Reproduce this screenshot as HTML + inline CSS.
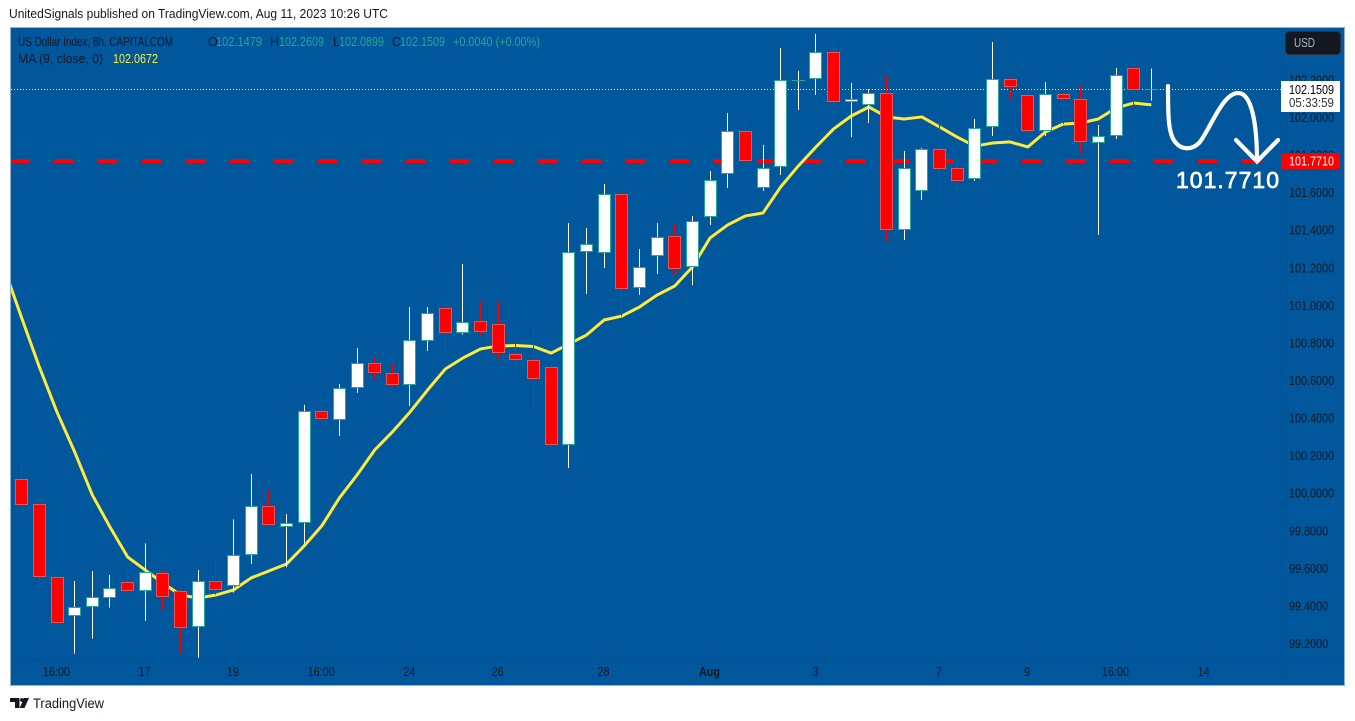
<!DOCTYPE html>
<html lang="en">
<head>
<meta charset="utf-8">
<title>US Dollar Index chart</title>
<style>
html,body{margin:0;padding:0;background:#fff;width:1355px;height:721px;overflow:hidden}
svg{display:block;position:absolute;left:0;top:0}
text{font-family:"Liberation Sans",sans-serif;font-size:12.5px;fill:#131722}
</style>
</head>
<body>
<svg id="chart" xmlns="http://www.w3.org/2000/svg" width="1355" height="721" viewBox="0 0 1355 721">
  <defs><clipPath id="pane-clip"><rect x="11" y="28" width="1271" height="631"/></clipPath></defs>
  <text x="9" y="18" style="font-size:13px" textLength="379" lengthAdjust="spacingAndGlyphs">UnitedSignals published on TradingView.com, Aug 11, 2023 10:26 UTC</text>
  <rect x="10.5" y="27.5" width="1334" height="658" fill="#01579b" stroke="#8fb0cf"/>
  <line x1="1281.5" y1="28" x2="1281.5" y2="685" stroke="#0a4f8b"/>
  <line x1="11" y1="659.5" x2="1344" y2="659.5" stroke="#0a4f8b"/>
  <g id="price-ticks"></g>
  <g id="time-ticks"></g>
  <g id="levels" clip-path="url(#pane-clip)"></g>
  <polyline id="ma-line" fill="none" stroke="#ffeb3b" stroke-width="3" stroke-linejoin="round" clip-path="url(#pane-clip)"/>
  <g id="candles" clip-path="url(#pane-clip)"></g>

  <g>
    <text x="18" y="46" textLength="155" lengthAdjust="spacingAndGlyphs">US Dollar Index, 8h, CAPITALCOM</text>
    <text x="208" y="46">O</text>
    <text x="216" y="46" style="fill:#26a69a" textLength="46" lengthAdjust="spacingAndGlyphs">102.1479</text>
    <text x="270" y="46">H</text>
    <text x="279" y="46" style="fill:#26a69a" textLength="45" lengthAdjust="spacingAndGlyphs">102.2609</text>
    <text x="333" y="46">L</text>
    <text x="339" y="46" style="fill:#26a69a" textLength="45" lengthAdjust="spacingAndGlyphs">102.0899</text>
    <text x="392" y="46">C</text>
    <text x="400" y="46" style="fill:#26a69a" textLength="45" lengthAdjust="spacingAndGlyphs">102.1509</text>
    <text x="453" y="46" style="fill:#26a69a" textLength="87" lengthAdjust="spacingAndGlyphs">+0.0040 (+0.00%)</text>
    <text x="18" y="63" textLength="85" lengthAdjust="spacingAndGlyphs">MA (9, close, 0)</text>
    <text x="113" y="63" style="fill:#ffeb3b" textLength="45" lengthAdjust="spacingAndGlyphs">102.0672</text>
  </g>

  <g>
    <rect x="1285.5" y="31.5" width="55" height="23" rx="4" fill="#131722" stroke="#2a2e39"/>
    <text x="1294" y="47" style="fill:#b2b5be" textLength="21" lengthAdjust="spacingAndGlyphs">USD</text>
  </g>

  <g>
    <rect x="1281" y="81" width="59" height="31" fill="#ffffff"/>
    <text x="1289" y="94" style="fill:#000" textLength="45" lengthAdjust="spacingAndGlyphs">102.1509</text>
    <text x="1289" y="107" style="fill:#333" textLength="45" lengthAdjust="spacingAndGlyphs">05:33:59</text>
  </g>
  <g>
    <rect x="1281" y="153" width="59" height="16" fill="#ff0000"/>
    <text x="1289" y="165.5" style="fill:#fff" textLength="45" lengthAdjust="spacingAndGlyphs">101.7710</text>
  </g>

  <g>
    <path d="M1168 86 C1168 115 1168 135 1176 143 C1182 150 1192 150 1199 143 C1209 132 1222 93 1238 93 C1252 93 1257 125 1257 161" fill="none" stroke="#fff" stroke-width="4.2" stroke-linecap="round"/>
    <path d="M1236 140 L1257 161.5 L1278 140" fill="none" stroke="#fff" stroke-width="4.2" stroke-linecap="round" stroke-linejoin="miter"/>
  </g>
  <text x="1176" y="188" style="fill:#fff;font-size:23px;stroke:#fff;stroke-width:.7px" textLength="103">101.7710</text>

  <g>
    <path d="M10 698 H19.5 V708 H15 V702 H10 Z" fill="#131722"/>
    <circle cx="22" cy="700" r="1.9" fill="#131722"/>
    <path d="M24 698 H29 L24.5 708 H19.7 Z" fill="#131722"/>
    <text x="33" y="708" style="font-size:13.5px" textLength="71" lengthAdjust="spacingAndGlyphs">TradingView</text>
  </g>
</svg>
<script>
const opens = [100.074,99.941,99.552,99.345,99.393,99.441,99.526,99.478,99.574,99.478,99.286,99.531,99.505,99.670,99.930,99.819,99.840,100.436,100.388,100.559,100.692,100.638,100.575,100.809,100.984,100.851,100.915,100.899,100.740,100.708,100.670,100.255,101.283,101.277,101.591,101.091,101.261,101.368,101.203,101.469,101.698,101.927,101.623,101.735,102.198,102.203,102.347,102.081,102.065,102.129,101.400,101.607,101.831,101.730,101.671,101.948,102.203,102.118,101.927,102.124,102.097,101.863,101.900,102.262,102.1479];
const highs = [100.181,99.959,99.565,99.533,99.586,99.565,99.586,99.733,99.591,99.489,99.591,99.648,99.861,100.102,100.017,99.889,100.470,100.539,100.581,100.773,100.721,100.693,100.991,100.991,100.997,101.220,101.020,101.020,100.851,100.910,100.688,101.438,101.412,101.646,101.635,101.300,101.438,101.438,101.476,101.715,102.024,101.987,101.854,102.370,102.248,102.445,102.406,102.184,102.152,102.221,101.822,101.838,101.971,101.790,101.992,102.402,102.216,102.162,102.189,102.124,102.168,101.960,102.264,102.274,102.2609];
const lows = [99.914,99.502,99.308,99.146,99.226,99.391,99.467,99.321,99.382,99.148,99.125,99.460,99.471,99.623,99.829,99.606,99.730,100.381,100.305,100.535,100.603,100.567,100.464,100.757,100.757,100.844,100.839,100.709,100.640,100.427,100.221,100.134,101.061,101.199,100.943,101.055,101.167,101.156,101.108,101.428,101.625,101.767,101.609,101.694,102.040,102.120,101.992,101.896,101.971,101.341,101.348,101.561,101.556,101.607,101.662,101.902,102.099,101.919,101.902,101.964,101.811,101.375,101.886,102.067,102.0899];
const closes = [99.936,99.552,99.311,99.393,99.446,99.494,99.478,99.579,99.446,99.281,99.531,99.483,99.670,99.930,99.829,99.840,100.436,100.394,100.559,100.692,100.638,100.575,100.814,100.958,100.851,100.910,100.857,100.745,100.708,100.606,100.255,101.283,101.325,101.591,101.086,101.203,101.362,101.195,101.447,101.666,101.927,101.767,101.730,102.198,102.198,102.347,102.081,102.097,102.129,101.400,101.730,101.831,101.724,101.660,101.943,102.203,102.161,101.927,102.124,102.097,101.868,101.900,102.225,102.145,102.1509];
const maValues = [101.199,100.933,100.672,100.432,100.220,99.991,99.820,99.661,99.591,99.522,99.458,99.442,99.458,99.485,99.549,99.586,99.623,99.719,99.826,99.975,100.097,100.230,100.326,100.432,100.550,100.661,100.720,100.768,100.784,100.786,100.781,100.746,100.794,100.842,100.922,100.943,100.991,101.055,101.103,101.204,101.359,101.428,101.476,101.492,101.630,101.742,101.843,101.939,102.008,102.056,102.003,101.992,102.003,101.950,101.896,101.848,101.864,101.870,101.843,101.923,101.965,101.971,101.992,102.051,102.077,102.0672];
const priceTickLabels = ["99.2000","99.4000","99.6000","99.8000","100.0000","100.2000","100.4000","100.6000","100.8000","101.0000","101.2000","101.4000","101.6000","101.8000","102.0000","102.2000"];
const timeTickLabels = ["16:00","17","19","16:00","24","26","28","Aug","3","7","9","16:00","14"];
const timeTickBars = [2,7,12,17,22,27,33,39,45,52,57,62,67];
const lastPrice = 102.1509;
const targetPrice = 101.7710;

const SVG_NS = "http://www.w3.org/2000/svg";
function xScale(i){ return 21.7 + i * 17.65; }
function yScale(p){ return 117.5 + (102 - p) * 187.86; }
function make(tag, attrs, parent){
  const el = document.createElementNS(SVG_NS, tag);
  for (const k in attrs) el.setAttribute(k, attrs[k]);
  parent.appendChild(el);
  return el;
}
function narrow(t){
  t.setAttribute("lengthAdjust", "spacingAndGlyphs");
  t.setAttribute("textLength", (t.getComputedTextLength() * 0.865).toFixed(1));
}

const priceTicks = document.getElementById("price-ticks");
priceTickLabels.forEach(function(label){
  const t = make("text", {x: 1289, y: yScale(parseFloat(label)) + 4.5}, priceTicks);
  t.textContent = label;
  narrow(t);
  
  
});

const timeTicks = document.getElementById("time-ticks");
timeTickLabels.forEach(function(label, n){
  const t = make("text", {x: xScale(timeTickBars[n]) - 0.6, y: 676, "text-anchor": "middle"}, timeTicks);
  t.textContent = label;
  if (label === "Aug") t.style.fontWeight = "bold";
  narrow(t);
  
  
});

const levels = document.getElementById("levels");
const lastLine = make("line", {x1: 11, x2: 1282, y1: Math.floor(yScale(lastPrice)) + 0.5, y2: Math.floor(yScale(lastPrice)) + 0.5, stroke: "#ffffff", "stroke-dasharray": "1 2"}, levels);


const targetY = Math.round(yScale(targetPrice));
const targetLine = make("line", {x1: 10, x2: 1282, y1: targetY, y2: targetY, stroke: "#ff0000", "stroke-width": 4, "stroke-dasharray": "20 24"}, levels);



document.getElementById("ma-line").setAttribute("points", maValues.map(function(v, n){
  return xScale(n - 1).toFixed(2) + "," + yScale(v).toFixed(2);
}).join(" "));

const candles = document.getElementById("candles");
opens.forEach(function(open, i){
  const close = closes[i];
  const up = close >= open;
  const g = make("g", {}, candles);
  
  
  const cx = Math.floor(xScale(i)) + 0.5;
  const wick = make("line", {x1: cx, x2: cx, y1: yScale(highs[i]), y2: yScale(lows[i]), stroke: up ? "#ffffff" : "#ff0000"}, g);
  
  
  const top = Math.round(yScale(Math.max(open, close))) + 0.5;
  const bottom = Math.round(yScale(Math.min(open, close))) - 0.5;
  const body = bottom - top < 1
    ? make("line", {x1: cx - 6.5, x2: cx + 6.5, y1: top, y2: top, stroke: "#26a69a"}, g)
    : make("rect", {x: cx - 6, y: top, width: 12, height: bottom - top, fill: up ? "#ffffff" : "#ff0000", stroke: up ? "#26a69a" : "#ef5350"}, g);
  
  
});
</script>
</body>
</html>
